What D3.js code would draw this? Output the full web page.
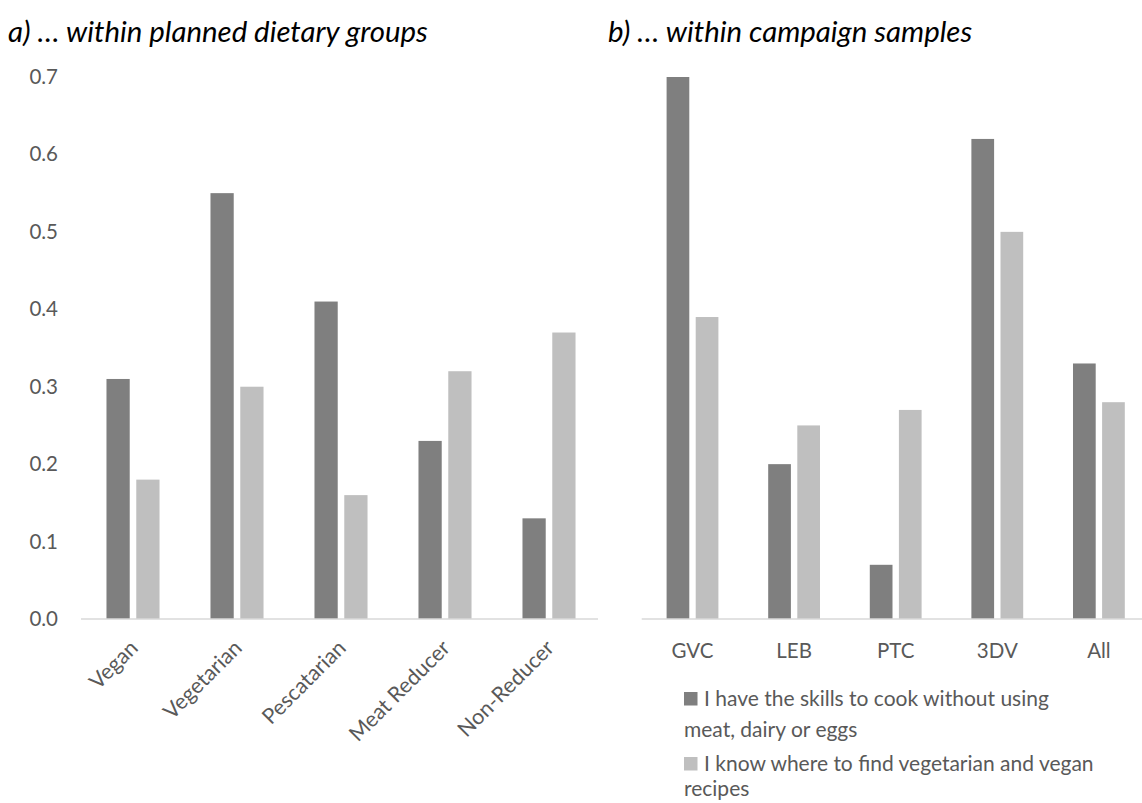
<!DOCTYPE html>
<html>
<head>
<meta charset="utf-8">
<script src="https://cdn.jsdelivr.net/npm/d3@7"></script>
<style>
  html, body { margin: 0; padding: 0; background: #fff; }
  svg { display: block; }
  text { font-family: Lato, "Open Sans", sans-serif; }
</style>
</head>
<body>
<div id="chart"></div>
<script>
// ---- Data ----
const groupsA = ["Vegan", "Vegetarian", "Pescatarian", "Meat Reducer", "Non-Reducer"];
const skillsA = [0.31, 0.55, 0.41, 0.23, 0.13];
const recipesA = [0.18, 0.30, 0.16, 0.32, 0.37];

const groupsB = ["GVC", "LEB", "PTC", "3DV", "All"];
const skillsB = [0.70, 0.20, 0.07, 0.62, 0.33];
const recipesB = [0.39, 0.25, 0.27, 0.50, 0.28];

const yTicks = [0, 0.1, 0.2, 0.3, 0.4, 0.5, 0.6, 0.7];
const seriesNames = ["I have the skills to cook without using meat, dairy or eggs",
                     "I know where to find vegetarian and vegan recipes"];
const legendLines = [["I have the skills to cook without using", "meat, dairy or eggs"],
                     ["I know where to find vegetarian and vegan", "recipes"]];
const titleA = "a) … within planned dietary groups";
const titleB = "b) … within campaign samples";

// ---- Setup ----
const W = 1142, H = 803;
const colors = ["#7f7f7f", "#bfbfbf"];
const textColor = "#595959";
const fs = 20.5;
const svg = d3.select("#chart").append("svg").attr("width", W).attr("height", H);

const y = d3.scaleLinear().domain([0, 0.7]).range([619, 77]);

function panel(cats, s1, s2, x0, x1, rotate) {
  const x = d3.scaleBand().domain(cats).range([x0, x1]).paddingInner(0).paddingOuter(0);
  const bw = x.bandwidth();
  const inner = d3.scaleBand().domain([0, 1]).range([bw * 0.245, bw * 0.755]).paddingInner(0.22);
  const g = svg.append("g");
  const data = cats.map((c, i) => ({ c, v: [s1[i], s2[i]] }));
  const grp = g.selectAll("g.cat").data(data).join("g")
    .attr("transform", d => `translate(${x(d.c)},0)`);
  grp.selectAll("rect").data(d => d.v.map((v, k) => ({ v, k }))).join("rect")
    .attr("x", d => inner(d.k))
    .attr("width", inner.bandwidth())
    .attr("y", d => y(d.v))
    .attr("height", d => y(0) - y(d.v))
    .attr("fill", d => colors[d.k]);
  const ax = g.append("g").attr("transform", `translate(0,${y(0)})`)
    .call(d3.axisBottom(x).tickSize(0).tickPadding(0));
  ax.select(".domain").attr("stroke", "#d9d9d9").attr("stroke-width", 1.5)
    .attr("d", `M${x0},0H${Math.min(x1, rotate ? 598 : x1)}`);
  ax.selectAll(".tick text").attr("fill", textColor).attr("font-size", fs)
    .attr("font-family", "Lato, 'Open Sans', sans-serif");
  if (rotate) {
    ax.selectAll(".tick text")
      .attr("font-size", 21.5)
      .attr("text-anchor", "end")
      .attr("dy", "0.35em")
      .attr("y", 0)
      .attr("transform", "translate(1,25) rotate(-45)");
  } else {
    ax.selectAll(".tick text").attr("dy", "0").attr("y", 39);
  }
  return x;
}

panel(groupsA, skillsA, recipesA, 81, 601, true);
panel(groupsB, skillsB, recipesB, 641.7, 1149.7, false);

// y axis labels (panel a)
const yAx = svg.append("g").attr("transform", "translate(58,0)")
  .call(d3.axisLeft(y).tickValues(yTicks).tickFormat(d3.format(".1f")).tickSize(0).tickPadding(0));
yAx.select(".domain").remove();
yAx.selectAll(".tick text").attr("fill", textColor).attr("font-size", fs)
  .attr("font-family", "Lato, 'Open Sans', sans-serif");

// titles
svg.append("text").attr("x", 8).attr("y", 42).text(titleA)
  .attr("font-size", 29.4).attr("font-style", "italic").attr("fill", "#000");
svg.append("text").attr("x", 608).attr("y", 42).text(titleB)
  .attr("font-size", 29.4).attr("font-style", "italic").attr("fill", "#000");

// legend
const leg = svg.append("g");
const legY = [699, 764];
legendLines.forEach((lines, k) => {
  leg.append("rect").attr("x", 684).attr("y", legY[k] - 7).attr("width", 13.5).attr("height", 13.5)
    .attr("fill", colors[k]);
  const t = leg.append("text").attr("fill", textColor).attr("font-size", 21);
  lines.forEach((ln, j) => {
    t.append("tspan").attr("x", j === 0 ? 704 : 684).attr("y", legY[k] + 7 + j * (k === 0 ? 31 : 25)).text(ln);
  });
});
</script>
</body>
</html>
